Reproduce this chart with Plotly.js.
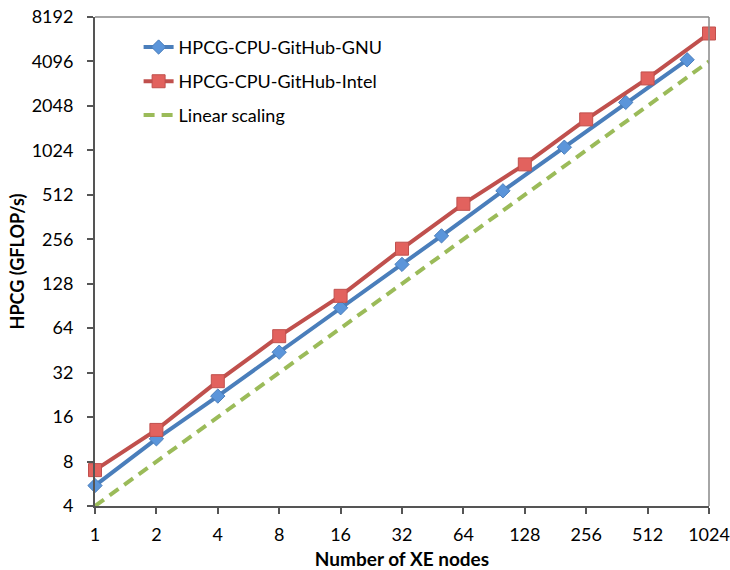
<!DOCTYPE html>
<html>
<head>
<meta charset="utf-8">
<script src="https://cdn.plot.ly/plotly-3.0.1.min.js"></script>
<style>html,body{margin:0;padding:0;background:#fff;}#chart{width:730px;height:570px;}</style>
</head>
<body>
<div id="chart"></div>
<script>
// Data
const gnuNodes = [1, 2, 4, 8, 16, 32, 50, 100, 200, 400, 800];
const gnuGflops = [5.5, 11.4, 22.2, 44, 88, 173, 270, 545, 1076, 2163, 4205];
const intelNodes = [1, 2, 4, 8, 16, 32, 64, 128, 256, 512, 1024];
const intelGflops = [7.0, 13.1, 28, 56.5, 106, 221, 445, 823, 1660, 3143, 6335];
const linearNodes = [1, 1024];
const linearGflops = [4, 4096];
const xTicks = [1, 2, 4, 8, 16, 32, 64, 128, 256, 512, 1024];
const yTicks = [4, 8, 16, 32, 64, 128, 256, 512, 1024, 2048, 4096, 8192];
const seriesNames = ['HPCG-CPU-GitHub-GNU', 'HPCG-CPU-GitHub-Intel', 'Linear scaling'];

const FONT = 'Lato, "Open Sans", sans-serif';

const traces = [
  {
    x: gnuNodes, y: gnuGflops, name: seriesNames[0], mode: 'lines+markers',
    line: {color: '#4A7EBB', width: 4},
    marker: {symbol: 'diamond', size: 11, color: '#5B95DA', line: {color: '#4A7EBB', width: 1}},
    cliponaxis: false, legend: 'legend'
  },
  {
    x: intelNodes, y: intelGflops, name: seriesNames[1], mode: 'lines+markers',
    line: {color: '#C0504D', width: 4},
    marker: {symbol: 'square', size: 13, color: '#E2625E', line: {color: '#C0504D', width: 1}},
    cliponaxis: false, legend: 'legend2'
  },
  {
    x: linearNodes, y: linearGflops, name: seriesNames[2], mode: 'lines',
    line: {color: '#9BBB59', width: 4, dash: '11px,7px'},
    cliponaxis: false, legend: 'legend3'
  }
];

const legendBase = {
  xanchor: 'left', yanchor: 'middle', bgcolor: 'rgba(0,0,0,0)',
  font: {family: FONT, size: 18, color: '#000'}
};

const layout = {
  width: 730, height: 570,
  margin: {l: 95, r: 21, t: 16.5, b: 64},
  paper_bgcolor: '#fff', plot_bgcolor: '#fff',
  font: {family: FONT, size: 18, color: '#000'},
  showlegend: true,
  legend: Object.assign({}, legendBase, {x: 0.071, y: 0.938}),
  legend2: Object.assign({}, legendBase, {x: 0.071, y: 0.868}),
  legend3: Object.assign({}, legendBase, {x: 0.071, y: 0.799}),
  xaxis: {
    type: 'log', range: [Math.log10(1), Math.log10(1024)],
    tickmode: 'array', tickvals: xTicks, ticktext: xTicks.map(String),
    ticks: 'outside', ticklen: 6, tickwidth: 2, tickcolor: '#555',
    showline: true, linecolor: '#555', linewidth: 2,
    showgrid: false, zeroline: false,
    tickfont: {family: FONT, size: 18, color: '#000'},
    ticklabelstandoff: 5,
    title: {text: 'Number of XE nodes', font: {family: FONT, size: 19, color: '#000', weight: 'bold'}, standoff: 13}
  },
  yaxis: {
    type: 'log', range: [Math.log10(4), Math.log10(8192)],
    tickmode: 'array', tickvals: yTicks, ticktext: yTicks.map(String),
    ticks: 'outside', ticklen: 6, tickwidth: 2, tickcolor: '#555',
    showline: true, linecolor: '#555', linewidth: 2,
    showgrid: false, zeroline: false,
    tickfont: {family: FONT, size: 18, color: '#000'},
    ticklabelstandoff: 10,
    title: {text: 'HPCG (GFLOP/s)', font: {family: FONT, size: 18, color: '#000', weight: 'bold'}, standoff: 2}
  },
  shapes: [
    {type: 'line', xref: 'paper', yref: 'paper', x0: 0, x1: 1, y0: 1, y1: 1, line: {color: '#888', width: 1.5}},
    {type: 'line', xref: 'paper', yref: 'paper', x0: 1, x1: 1, y0: 0, y1: 1, line: {color: '#888', width: 1.5}}
  ]
};

Plotly.newPlot('chart', traces, layout, {displayModeBar: false, staticPlot: true});
</script>
</body>
</html>
